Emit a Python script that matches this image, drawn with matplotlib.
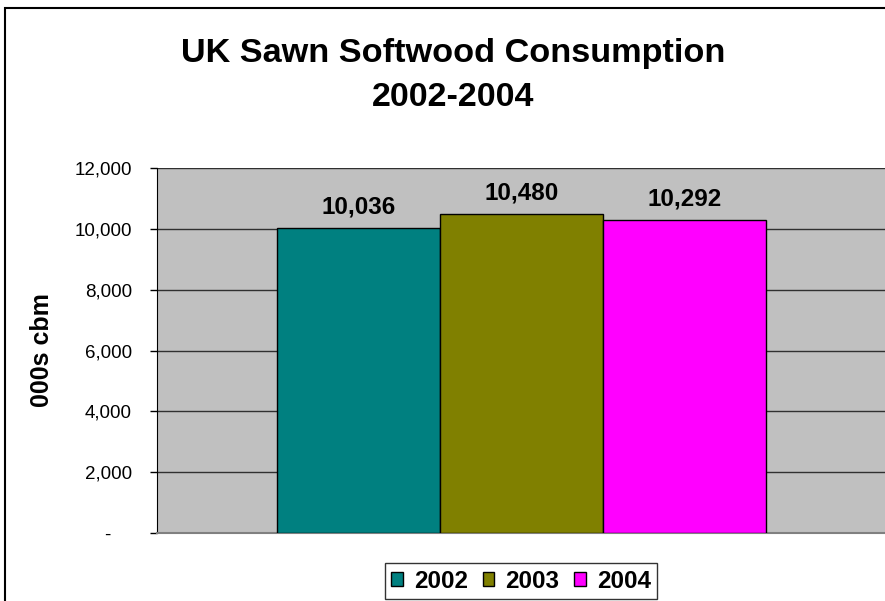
import matplotlib
matplotlib.use("Agg")
import matplotlib.pyplot as plt
from matplotlib.patches import Rectangle
from matplotlib.ticker import FixedLocator, FuncFormatter

plt.rcParams['font.family'] = ['Liberation Sans', 'DejaVu Sans']

years = ["2002", "2003", "2004"]
values = [10036, 10480, 10292]
colors = ["#008080", "#808000", "#FF00FF"]
y_ticks = [0, 2000, 4000, 6000, 8000, 10000, 12000]

fig = plt.figure(figsize=(8.85, 6.01), dpi=100)
W, H = 885, 601

# outer chart border (extends beyond right/bottom edge)
fig.patches.append(Rectangle((5 / W, -0.1), 1.2, 1 - 8 / H + 0.1, transform=fig.transFigure,
                             fill=False, edgecolor='black', linewidth=1.5))

ax = fig.add_axes([157 / W, (H - 533) / H, 729 / W, 365 / H])
ax.set_facecolor('#C0C0C0')

n = len(values)
xs = [i - (n - 1) / 2 for i in range(n)]
bars = []
for x, v, c, lab in zip(xs, values, colors, years):
    b = ax.bar(x, v, width=1.0, color=c, edgecolor='black', linewidth=1.0, label=lab, zorder=3)
    bars.append(b)
    ax.text(x, v + 480, f"{v:,}", ha='center', va='baseline', fontsize=17.5,
            fontweight='bold', zorder=4)

ax.set_xlim(-2.236, 2.236)
ax.set_ylim(0, 12000)
ax.yaxis.set_major_locator(FixedLocator(y_ticks))
ax.yaxis.set_major_formatter(FuncFormatter(lambda v, p: "-    " if v == 0 else f"{int(v):,}"))
ax.tick_params(axis='y', labelsize=13.5, length=5, width=1, pad=13, direction='out')
ax.set_xticks([])
ax.grid(axis='y', color='#303030', linewidth=1, zorder=1)
ax.set_axisbelow(True)

for s in ['top', 'right']:
    ax.spines[s].set_visible(False)
ax.spines['left'].set_color('black')
ax.spines['bottom'].set_color('#808080')
ax.spines['bottom'].set_linewidth(1.5)

fig.text(42 / W, 1 - 350 / H, "000s cbm", rotation=90, ha='center', va='center',
         fontsize=18, fontweight='bold')

fig.text(453 / W, 1 - 62 / H, "UK Sawn Softwood Consumption", ha='center', va='baseline',
         fontsize=24.7, fontweight='bold')
fig.text(453 / W, 1 - 106 / H, "2002-2004", ha='center', va='baseline',
         fontsize=24.5, fontweight='bold')

leg = fig.legend(handles=[b[0] for b in bars], labels=years, loc='center',
                 bbox_to_anchor=(521 / W, 1 - 581 / H), ncol=3, frameon=True,
                 fancybox=False, edgecolor='black',
                 prop={'weight': 'bold', 'size': 17.5},
                 handlelength=0.49, handleheight=0.49, handletextpad=0.45,
                 columnspacing=0.6, borderpad=0.25, borderaxespad=0)
leg.get_frame().set_linewidth(1.0)

fig.savefig("out.png", dpi=100)
